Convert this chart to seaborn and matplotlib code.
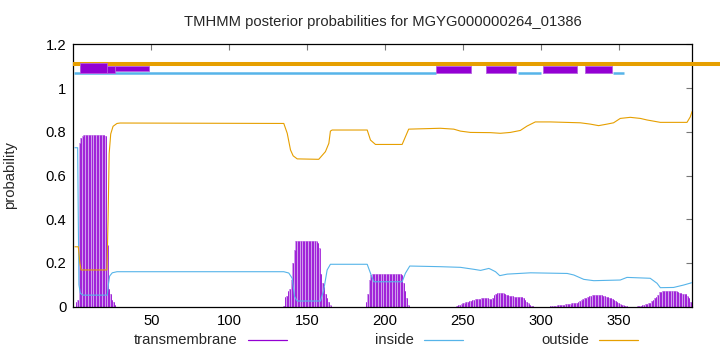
import numpy as np
import pandas as pd
import matplotlib
matplotlib.use("Agg")
import matplotlib.pyplot as plt
import seaborn as sns
from matplotlib.lines import Line2D
from matplotlib.patches import Rectangle

# ---------------- data ----------------
TITLE = "TMHMM posterior probabilities for MGYG000000264_01386"
SEQ_LEN = 397
x_ticks = [50, 100, 150, 200, 250, 300, 350]
y_ticks = [0, 0.2, 0.4, 0.6, 0.8, 1.0, 1.2]
y_tick_labels = ["0", "0.2", "0.4", "0.6", "0.8", "1", "1.2"]
legend_labels = ["transmembrane", "inside", "outside"]

outside_pos = [1, 3.2, 4.2, 5, 21.6, 22.3, 23, 24, 25.5, 28, 30, 135, 137.2, 139.3,
               141, 143.6, 157.4, 161.7, 163.9, 164.9, 166, 188.5, 190.6, 193.8,
               210.9, 213, 215.1, 235.4, 244, 248.3, 254.7, 267.5, 273.9, 280.3,
               286.7, 291, 296.3, 306, 325.2, 331.6, 336.9, 342.3, 346.5, 350.8,
               357.2, 363.7, 367.9, 376.5, 393.6, 395.7, 396.8]
outside_prob = [0.274, 0.274, 0.2, 0.168, 0.168, 0.4, 0.7, 0.79, 0.825, 0.838, 0.84,
                0.838, 0.793, 0.717, 0.69, 0.676, 0.674, 0.709, 0.747, 0.803, 0.808,
                0.808, 0.762, 0.742, 0.742, 0.777, 0.812, 0.816, 0.812, 0.803, 0.797,
                0.796, 0.793, 0.797, 0.806, 0.826, 0.845, 0.845, 0.841, 0.835, 0.828,
                0.835, 0.841, 0.861, 0.866, 0.861, 0.854, 0.843, 0.843, 0.868, 0.892]

inside_pos = [1, 2.8, 3.2, 3.6, 4.5, 6, 21.8, 22.5, 23.3, 25, 28, 135, 138.2, 140.4,
              141.9, 143.6, 158.5, 160.6, 162.8, 164.9, 188.5, 190.6, 192.7, 210.9,
              213, 215.8, 235.4, 248.3, 256.9, 261.2, 266.5, 267.5, 270.8, 273.5,
              278.3, 293.3, 316.8, 321, 327.4, 333.8, 350.8, 355.1, 370, 374.4,
              376.5, 385, 391.4, 396.8]
inside_prob = [0.727, 0.727, 0.4, 0.1, 0.062, 0.053, 0.053, 0.1, 0.14, 0.155, 0.16,
               0.16, 0.154, 0.13, 0.047, 0.026, 0.026, 0.076, 0.168, 0.194, 0.194,
               0.153, 0.114, 0.114, 0.153, 0.186, 0.183, 0.18, 0.171, 0.166, 0.175,
               0.172, 0.16, 0.142, 0.149, 0.155, 0.152, 0.145, 0.125, 0.119, 0.122,
               0.134, 0.13, 0.107, 0.087, 0.088, 0.099, 0.11]

# transmembrane posterior, per residue, for the stretches where it is non-zero
tm_start_1 = 1
tm_vals_1 = [0.0, 0.02, 0.03, 0.75, 0.77, 0.78, 0.785, 0.785, 0.785, 0.785, 0.785,
             0.785, 0.785, 0.785, 0.785, 0.785, 0.785, 0.785, 0.785, 0.785, 0.78,
             0.28, 0.08, 0.06, 0.03, 0.02, 0.01]
tm_start_2 = 135
tm_vals_2 = [0.005, 0.046, 0.05, 0.07, 0.08, 0.12, 0.2, 0.26, 0.3, 0.302, 0.302,
             0.302, 0.302, 0.302, 0.302, 0.302, 0.302, 0.302, 0.302, 0.302, 0.302,
             0.3, 0.29, 0.27, 0.15, 0.11, 0.09, 0.06, 0.04, 0.02, 0.01]
tm_start_3 = 188
tm_vals_3 = [0.02, 0.06, 0.12, 0.145, 0.15, 0.15, 0.15, 0.15, 0.15, 0.15, 0.15,
             0.15, 0.15, 0.15, 0.15, 0.15, 0.15, 0.15, 0.15, 0.15, 0.15, 0.15,
             0.15, 0.145, 0.11, 0.07, 0.04, 0.01]
tm_start_4 = 246
tm_vals_4 = [0.003, 0.006, 0.01, 0.013, 0.016, 0.018, 0.02, 0.023, 0.025, 0.027,
             0.029, 0.031, 0.033, 0.035, 0.036, 0.037, 0.038, 0.039, 0.04, 0.04,
             0.038, 0.034, 0.036, 0.042, 0.052, 0.06, 0.063, 0.064, 0.064, 0.064,
             0.062, 0.058, 0.054, 0.052, 0.05, 0.048, 0.047, 0.046, 0.046, 0.045,
             0.045, 0.044, 0.043, 0.038, 0.03, 0.023, 0.016, 0.01, 0.005, 0.002]
tm_start_5 = 306
tm_vals_5 = [0.001, 0.002, 0.003, 0.004, 0.005, 0.006, 0.007, 0.008, 0.009, 0.01,
             0.011, 0.012, 0.013, 0.014, 0.015, 0.016, 0.017, 0.018, 0.021, 0.025,
             0.03, 0.034, 0.038, 0.042, 0.045, 0.048, 0.05, 0.052, 0.053, 0.054,
             0.054, 0.054, 0.053, 0.052, 0.05, 0.048, 0.046, 0.044, 0.041, 0.038,
             0.035, 0.031, 0.026, 0.021, 0.016, 0.012, 0.009, 0.006, 0.003, 0.001]
tm_start_6 = 362
tm_vals_6 = [0.002, 0.003, 0.005, 0.007, 0.009, 0.011, 0.013, 0.016, 0.019, 0.024,
             0.03, 0.038, 0.046, 0.055, 0.065, 0.069, 0.07, 0.07, 0.07, 0.07, 0.07,
             0.07, 0.07, 0.07, 0.07, 0.07, 0.066, 0.063, 0.061, 0.06, 0.059, 0.058,
             0.05, 0.04, 0.02]

# predicted topology strip above the curves
topo_outside = [(0.0, 415.0)]
topo_inside = [(0.2, 232.3), (285.3, 300.2), (346.3, 353.4)]
topo_tm = [(4.2, 26.7), (232.9, 255.3), (264.9, 284.2), (301.5, 323.3), (328.4, 345.7)]
topo_tm_extra = [(26.7, 48.7)]

# ---------------- build tables ----------------
tm_full = np.zeros(SEQ_LEN)
for st, vals in [(tm_start_1, tm_vals_1), (tm_start_2, tm_vals_2), (tm_start_3, tm_vals_3),
                 (tm_start_4, tm_vals_4), (tm_start_5, tm_vals_5), (tm_start_6, tm_vals_6)]:
    tm_full[st - 1: st - 1 + len(vals)] = vals
tm_df = pd.DataFrame({"pos": np.arange(1, SEQ_LEN + 1), "prob": tm_full})
tm_df = tm_df[tm_df.prob > 0]
out_df = pd.DataFrame({"pos": outside_pos, "prob": outside_prob})
in_df = pd.DataFrame({"pos": inside_pos, "prob": inside_prob})

# ---------------- style ----------------
sns.set_style("white")
plt.rcParams["font.family"] = ["Liberation Sans", "DejaVu Sans"]
FS = 10.6
plt.rcParams["font.size"] = FS

C_TM = "#9400D3"
C_IN = "#56B4E9"
C_OUT = "#E69F00"

fig = plt.figure(figsize=(7.2, 3.52), dpi=100)
ax = fig.add_axes([73.3 / 720, 1 - 306.7 / 352, (692.3 - 73.3) / 720, (306.7 - 44.3) / 352])

# transmembrane impulses
ax.bar(tm_df.pos, tm_df.prob, width=1.0, color="#cf9cec", linewidth=0, zorder=1)
ax.vlines(tm_df.pos, 0, tm_df.prob, color=C_TM, linewidth=0.55, zorder=2)

sns.lineplot(data=in_df, x="pos", y="prob", ax=ax, color=C_IN, linewidth=0.8,
             estimator=None, sort=False, zorder=3)
sns.lineplot(data=out_df, x="pos", y="prob", ax=ax, color=C_OUT, linewidth=0.8,
             estimator=None, sort=False, zorder=3)

# topology strip
for a, b in topo_outside:
    ax.add_line(Line2D([a, b], [1.11, 1.11], color=C_OUT, linewidth=2.9,
                       solid_capstyle="butt", clip_on=False, zorder=4))
for a, b in topo_inside:
    ax.add_line(Line2D([a, b], [1.071, 1.071], color=C_IN, linewidth=1.8,
                       solid_capstyle="butt", clip_on=False, zorder=4))
for a, b in topo_tm:
    ax.add_patch(Rectangle((a, 1.067), b - a, 0.035, facecolor=C_TM,
                           edgecolor="#b560e0", linewidth=0.6, zorder=5, clip_on=False))
ax.add_patch(Rectangle((topo_tm[0][0], 1.067), 21.3 - topo_tm[0][0], 0.049,
                       facecolor=C_TM, edgecolor="#b560e0", linewidth=0.6, zorder=5, clip_on=False))
for a, b in topo_tm_extra:
    ax.add_patch(Rectangle((a, 1.076), b - a, 0.024, facecolor=C_TM,
                           edgecolor="#b560e0", linewidth=0.6, zorder=5, clip_on=False))

ax.set_xlim(0, SEQ_LEN)
ax.set_ylim(0, 1.2)
ax.set_xticks(x_ticks)
ax.set_xticklabels([str(t) for t in x_ticks])
ax.set_yticks(y_ticks)
ax.set_yticklabels(y_tick_labels)
ax.tick_params(direction="in", length=4, width=0.8, top=True, right=True,
               labelsize=FS, pad=5, colors="#777777", labelcolor="black")
for s in ax.spines.values():
    s.set_color("black")
    s.set_linewidth(0.9)
ax.set_xlabel("")
ax.set_ylabel("probability", fontsize=FS)
ax.yaxis.set_label_coords((17 - 73.3) / 619.0, 0.5)
ax.set_title(TITLE, fontsize=FS, pad=13)

# key at the bottom
key_colors = [C_TM, C_IN, C_OUT]
key_text_right = [238, 414, 589]
for lab, col, xr in zip(legend_labels, key_colors, key_text_right):
    fig.text(xr / 720, 1 - 340 / 352, lab, ha="right", va="center", fontsize=FS)
    fig.add_artist(Line2D([(xr + 10) / 720, (xr + 49) / 720], [1 - 340 / 352] * 2,
                          color=col, linewidth=0.9, transform=fig.transFigure))

fig.savefig("out.png", dpi=100)
